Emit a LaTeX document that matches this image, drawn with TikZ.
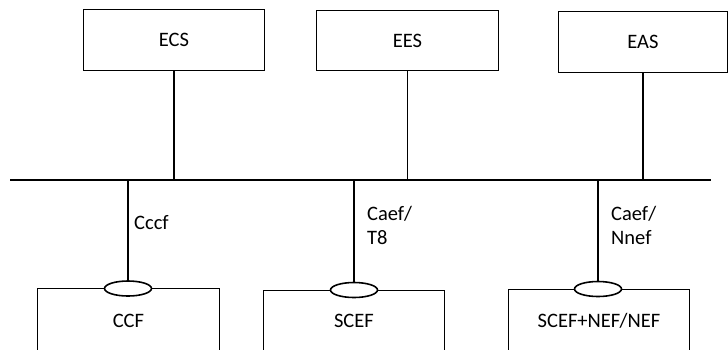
\documentclass[tikz,border=0pt]{standalone}
\usepackage{fontspec}
\setmainfont{Carlito}
\usetikzlibrary{shapes.geometric}
\begin{document}
\begin{tikzpicture}[x=1pt,y=-1pt,
  font=\fontsize{20.5}{25}\selectfont,
  topbox/.style={draw, line width=0.9pt, inner sep=0pt, anchor=north west},
  botbox/.style={draw, line width=0.9pt, inner sep=0pt, anchor=north west},
  port/.style={draw, ellipse, line width=1.6pt, fill=white, minimum width=47pt, minimum height=15pt, inner sep=0pt},
  link/.style={line width=1.6pt},
  lbl/.style={anchor=west, inner sep=0pt, align=left}]
\useasboundingbox (0,0) rectangle (728,349);
\clip (0,0) rectangle (728,349);
% top boxes
\node[topbox, minimum width=181pt, minimum height=61pt] (ecs) at (83,9) {ECS};
\node[topbox, minimum width=182pt, minimum height=60pt] (ees) at (316,10) {EES};
\node[topbox, minimum width=169pt, minimum height=61pt] (eas) at (558,11) {EAS};
% bus
\coordinate (busL) at (10,180);
\coordinate (busR) at (711,180);
\draw[link] (busL) -- (busR);
\draw[link] (ecs.south) -- (ecs.south |- busL);
\draw[link] (ees.south) -- (ees.south |- busL);
\draw[link] (eas.south) -- (eas.south |- busL);
% bottom boxes
\node[botbox, minimum width=182pt, minimum height=64pt] (ccf) at (37,288) {CCF};
\node[botbox, minimum width=181pt, minimum height=60pt] (scef) at (263,290) {SCEF};
\node[botbox, minimum width=181pt, minimum height=62pt] (nef) at (508,289) {SCEF+NEF/NEF};
% ports
\node[port] (p1) at (128,288.5) {};
\node[port] (p2) at (354,290) {};
\node[port] (p3) at (598,289) {};
\draw[link] (p1.north |- busL) -- (p1.north);
\draw[link] (p2.north |- busL) -- (p2.north);
\draw[link] (p3.north |- busL) -- (p3.north);
% labels
\node[lbl] (l1) at (134,223) {Cccf};
\node[lbl] (l2) at (367,225.5) {Caef/\\[-1pt]T8};
\node[lbl] (l3) at (611,225.5) {Caef/\\[-1pt]Nnef};
\end{tikzpicture}
\end{document}
